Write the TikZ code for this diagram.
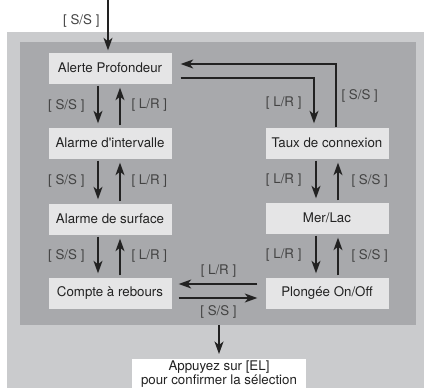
\documentclass[tikz,border=0pt]{standalone}
\usepackage{fontspec}
\setmainfont{TeX Gyre Heros}
\usetikzlibrary{arrows.meta,positioning}
\definecolor{dvouter}{HTML}{CACBCD}
\definecolor{dvinner}{HTML}{A8A9AC}
\definecolor{dvbox}{HTML}{E5E5E6}
\definecolor{dvink}{HTML}{222222}
\tikzset{
  bx/.style={fill=dvbox, minimum width=123pt, minimum height=31pt, inner sep=0pt, text=dvink},
  lbl/.style={text=dvink!85, inner sep=0pt, font=\fontsize{13.3}{14}\selectfont},
  arr/.style={-{Stealth[length=12.5pt,width=9pt,inset=3.5pt]}, line width=1.1pt, color=dvink},
}

\begin{document}
\begin{tikzpicture}[x=1pt, y=-1pt, font=\fontsize{13.3}{14}\selectfont]
    \useasboundingbox (0,0) rectangle (426,388);
    % panels
    \fill[dvouter] (7,32) rectangle (424,388);
    \node[fill=dvinner, inner sep=0pt, minimum width=396pt, minimum height=283pt] (pan) at (218,183.5) {};
    % left column
    \node[bx] (ale) at (110,68) {Alerte Profondeur};
    \node[bx] (ali) at (110,143) {Alarme d\textquotesingle intervalle};
    \node[bx] (als) at (110,219) {Alarme de surface};
    \node[bx] (cpt) at (110,293) {Compte à rebours};
    % right column
    \node[bx] (tau) at (327,143) {Taux de connexion};
    \node[bx] (mer) at (327,218) {Mer/Lac};
    \node[bx] (plo) at (327,293) {Plongée On/Off};
    \node[fill=white, minimum width=174pt, inner sep=1.5pt, anchor=north, align=center, text=dvink] (ok) at (219,359)
      {Appuyez sur [EL]\\pour confirmer la sélection};
    % entry
    \coordinate (in) at (108,0);
    \draw[arr, shorten >=2pt] (in) -- (in |- ale.north) node[lbl, pos=0.4, left=8pt] {[ S/S ]};
    \foreach \a/\b in {ale/ali, ali/als, als/cpt}
    {
      \draw[arr, shorten <=2pt, shorten >=4pt] ([xshift=-12pt]\a.south) -- ([xshift=-12pt]\b.north) node[lbl, midway, left=13pt] {[ S/S ]};
      \draw[arr, shorten <=2pt, shorten >=4pt] ([xshift=10pt]\b.north) -- ([xshift=10pt]\a.south) node[lbl, midway, right=11pt] {[ L/R ]};
    }
    \foreach \a/\b in {tau/mer, mer/plo}
    {
      \draw[arr, shorten <=2pt, shorten >=4pt] ([xshift=-11pt]\a.south) -- ([xshift=-11pt]\b.north) node[lbl, midway, left=14pt] {[ L/R ]};
      \draw[arr, shorten <=2pt, shorten >=4pt] ([xshift=11pt]\b.north) -- ([xshift=11pt]\a.south) node[lbl, midway, right=13pt] {[ S/S ]};
    }
    % back to the top
    \draw[arr, shorten <=9pt, shorten >=4pt] ([yshift=-10pt]ale.east) -| ([xshift=-13pt]tau.north) node[lbl, pos=0.75, left=12pt] {[ L/R ]};
    \draw[arr, shorten >=9pt] ([xshift=9pt]tau.north) |- ([yshift=4pt]ale.east) node[lbl, pos=0.25, right=5pt] {[ S/S ]};
    % bottom pair
    \draw[arr, shorten <=8pt, shorten >=7pt] ([yshift=9pt]plo.west) -- ([yshift=9pt]cpt.east) node[lbl, midway, above=6pt] {[ L/R ]};
    \draw[arr, shorten <=7pt, shorten >=8pt] ([yshift=-5pt]cpt.east) -- ([yshift=-5pt]plo.west) node[lbl, midway, below=7pt] {[ S/S ]};
    \draw[arr, shorten >=5pt] (pan.south -| ok.north) -- (ok.north);
  \end{tikzpicture}
\end{document}
